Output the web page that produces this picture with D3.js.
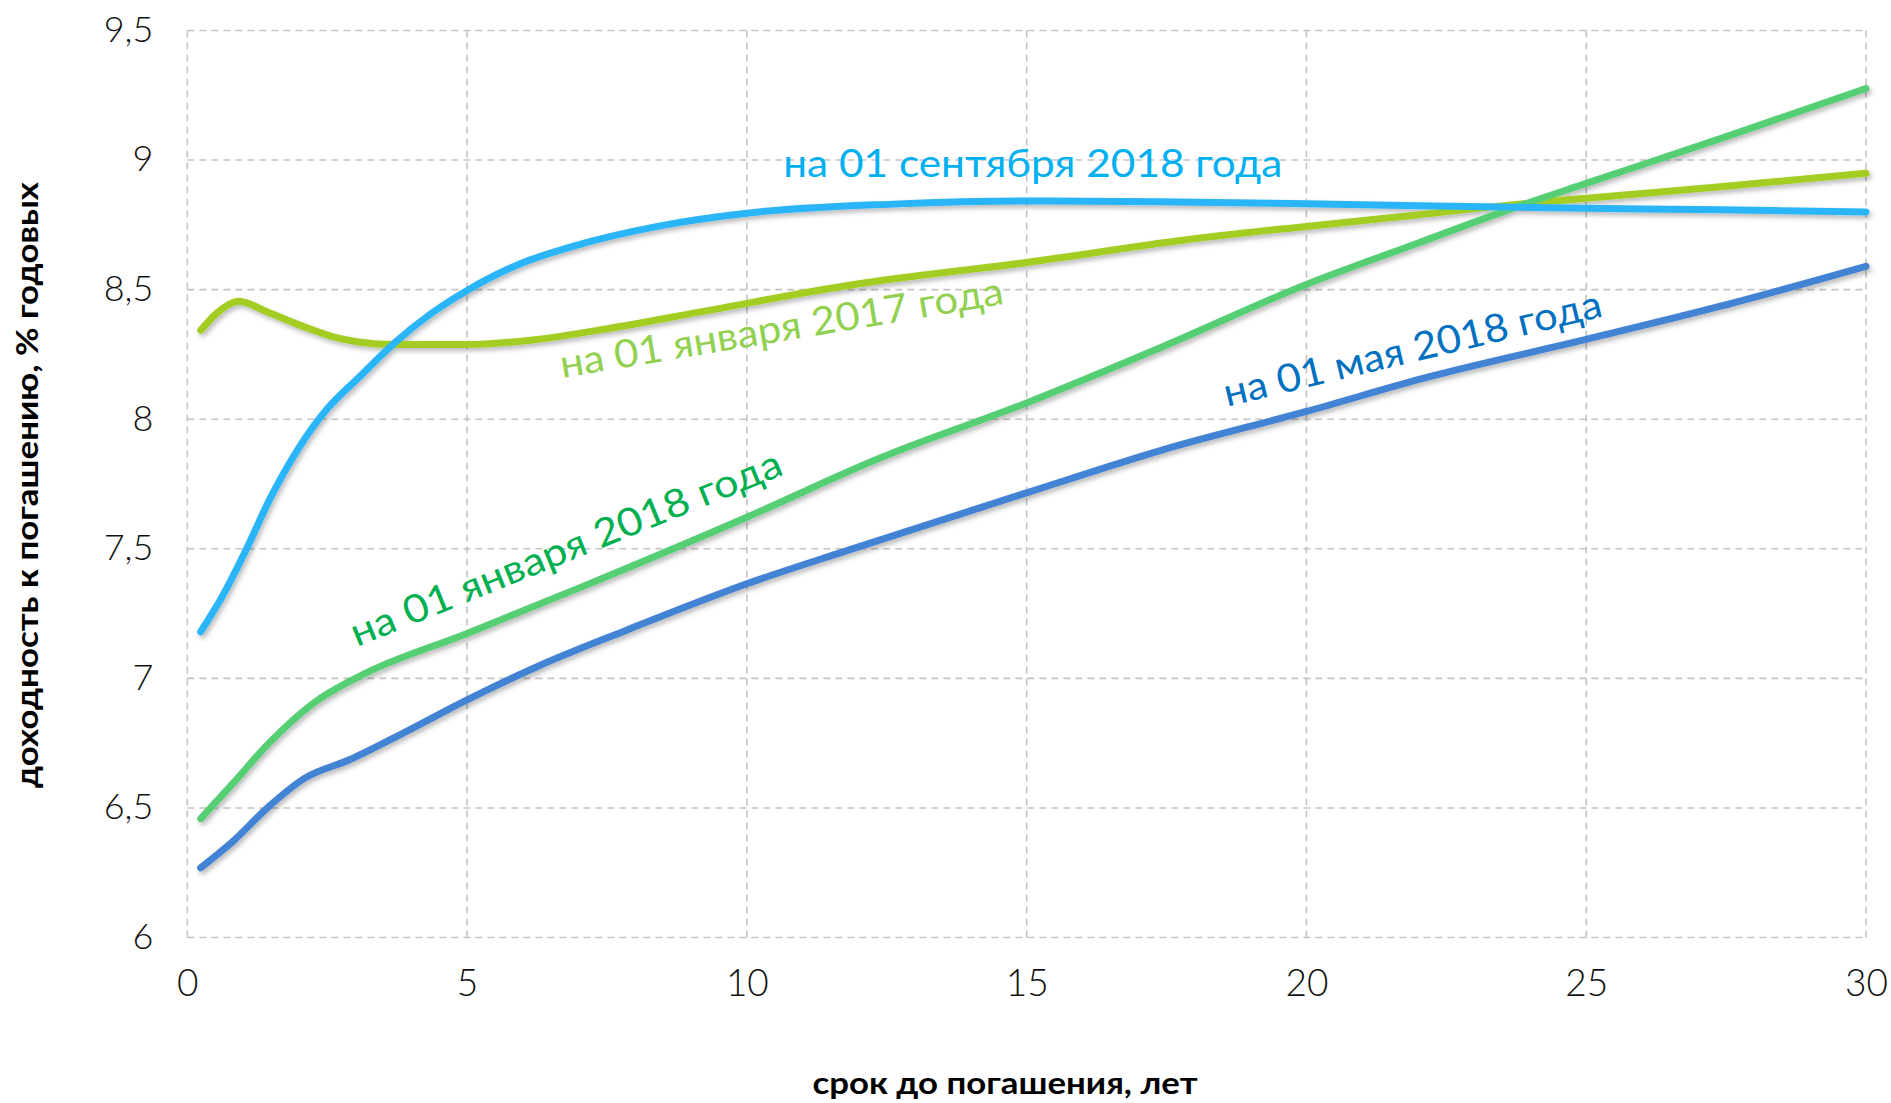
<!DOCTYPE html>
<html>
<head>
<meta charset="utf-8">
<script src="https://cdn.jsdelivr.net/npm/d3@7"></script>
<style>
  html, body { margin: 0; padding: 0; background: #fff; }
  svg { display: block; }
</style>
</head>
<body>
<svg id="chart" width="1891" height="1103"></svg>
<script>
// ---- data ----
const xTicks = [0, 5, 10, 15, 20, 25, 30];
const yTicks = [6, 6.5, 7, 7.5, 8, 8.5, 9, 9.5];
const yTickLabels = ["6", "6,5", "7", "7,5", "8", "8,5", "9", "9,5"];

const sep2018X = [0.24, 0.66, 1.06, 1.47, 1.98, 2.5, 3.06, 3.7, 4.34, 5, 5.93, 6.89, 8.5, 10, 12.6, 15, 17.35, 20, 22, 25, 27.4, 30];
const sep2018Y = [7.18, 7.33, 7.50, 7.69, 7.885, 8.04, 8.16, 8.294, 8.405, 8.497, 8.598, 8.667, 8.748, 8.795, 8.83, 8.842, 8.839, 8.831, 8.824, 8.814, 8.808, 8.80];

const jan2017X = [0.24, 0.525, 0.92, 1.42, 2.01, 2.61, 3.06, 3.7, 5.0, 6.25, 7.53, 9.17, 11.83, 15, 18.1, 20, 21.97, 23.8, 25, 27.4, 30];
const jan2017Y = [8.343, 8.409, 8.455, 8.415, 8.363, 8.318, 8.298, 8.288, 8.288, 8.308, 8.35, 8.414, 8.517, 8.605, 8.699, 8.744, 8.788, 8.83, 8.853, 8.897, 8.949];

const jan2018X = [0.24, 0.82, 1.46, 2.26, 3.06, 5.0, 7.05, 10, 12.38, 15, 17.42, 20, 22, 23.86, 25, 27.4, 30];
const jan2018Y = [6.459, 6.596, 6.75, 6.905, 7.006, 7.173, 7.353, 7.622, 7.85, 8.063, 8.279, 8.52, 8.68, 8.827, 8.91, 9.083, 9.276];

const may2018X = [0.24, 0.82, 1.46, 2.1, 2.9, 3.85, 5, 6.25, 7.85, 10, 11.83, 15, 17.42, 20, 22.2, 25, 27.4, 30];
const may2018Y = [6.269, 6.372, 6.506, 6.615, 6.686, 6.788, 6.917, 7.045, 7.186, 7.365, 7.496, 7.716, 7.881, 8.03, 8.164, 8.308, 8.436, 8.59];

const seriesNames = ["на 01 января 2017 года", "на 01 января 2018 года", "на 01 мая 2018 года", "на 01 сентября 2018 года"];

// ---- layout ----
const svg = d3.select("#chart");
const x = d3.scaleLinear().domain([0, 30]).range([187.3, 1866]);
const y = d3.scaleLinear().domain([6, 9.5]).range([937.5, 30.5]);

const defs = svg.append("defs");
const f = defs.append("filter").attr("id", "shadow")
  .attr("x", "-5%").attr("y", "-20%").attr("width", "110%").attr("height", "140%");
f.append("feDropShadow").attr("dx", 2).attr("dy", 3).attr("stdDeviation", 2.5)
  .attr("flood-color", "#000").attr("flood-opacity", 0.28);

// grid
const grid = svg.append("g").attr("stroke", "#c4c4c4").attr("stroke-width", 1.6)
  .attr("stroke-dasharray", "7,5").attr("fill", "none");
grid.selectAll("line.h").data(yTicks).join("line").attr("class", "h")
  .attr("x1", x(0)).attr("x2", x(30)).attr("y1", d => y(d)).attr("y2", d => y(d));
grid.selectAll("line.v").data(xTicks).join("line").attr("class", "v")
  .attr("y1", y(9.5)).attr("y2", y(6)).attr("x1", d => x(d)).attr("x2", d => x(d));

// axes (labels only)
const yAxis = d3.axisLeft(y).tickValues(yTicks).tickFormat((d, i) => yTickLabels[i]).tickSize(0).tickPadding(34);
const gy = svg.append("g").attr("transform", `translate(${x(0)},0)`).call(yAxis);
gy.select(".domain").remove();
gy.selectAll("text").attr("font-family", "Lato, sans-serif").attr("font-weight", 300)
  .attr("font-size", 36).attr("fill", "#111").attr("dy", "0.3em");

const xAxis = d3.axisBottom(x).tickValues(xTicks).tickFormat(d => String(d)).tickSize(0).tickPadding(32);
const gx = svg.append("g").attr("transform", `translate(0,${y(6)})`).call(xAxis);
gx.select(".domain").remove();
gx.selectAll("text").attr("font-family", "Lato, sans-serif").attr("font-weight", 300)
  .attr("font-size", 37).attr("fill", "#111");

// lines
const line = d3.line().x(d => x(d[0])).y(d => y(d[1])).curve(d3.curveMonotoneX);
const series = [
  { xs: jan2017X, ys: jan2017Y, color: "#a3cd21" },
  { xs: jan2018X, ys: jan2018Y, color: "#57ce73" },
  { xs: may2018X, ys: may2018Y, color: "#4383d4" },
  { xs: sep2018X, ys: sep2018Y, color: "#2cb5f8" }
];
const lg = svg.append("g").attr("filter", "url(#shadow)");
series.forEach(s => {
  const pts = s.xs.map((v, i) => [v, s.ys[i]]);
  lg.append("path").datum(pts).attr("d", line).attr("fill", "none")
    .attr("stroke", s.color).attr("stroke-width", 7).attr("stroke-linecap", "round")
    .attr("stroke-linejoin", "round");
});

// series labels
const labels = [
  { text: seriesNames[0], lx: 6.70, ly: 8.159, angle: -9.5, len: 449, color: "#92d050" },
  { text: seriesNames[1], lx: 3.03, ly: 7.121, angle: -22, len: 462, color: "#00b050" },
  { text: seriesNames[2], lx: 18.58, ly: 8.048, angle: -13.5, len: 388, color: "#0070c0" },
  { text: seriesNames[3], lx: 10.65, ly: 8.935, angle: 0, len: 499, color: "#00b0f0" }
];
svg.append("g").selectAll("text").data(labels).join("text")
  .attr("transform", d => `translate(${x(d.lx)},${y(d.ly)}) rotate(${d.angle})`)
  .attr("font-family", "Lato, sans-serif").attr("font-size", 39)
  .attr("textLength", d => d.len).attr("lengthAdjust", "spacingAndGlyphs")
  .attr("fill", d => d.color).text(d => d.text);

// axis titles
svg.append("text").attr("x", 1005).attr("y", 1094).attr("text-anchor", "middle")
  .attr("font-family", "Lato, sans-serif").attr("font-weight", 700).attr("font-size", 30)
  .attr("fill", "#000").attr("textLength", 385).attr("lengthAdjust", "spacingAndGlyphs")
  .text("срок до погашения, лет");

svg.append("text").attr("transform", "translate(38,485) rotate(-90)").attr("text-anchor", "middle")
  .attr("font-family", "Lato, sans-serif").attr("font-weight", 700).attr("font-size", 30)
  .attr("fill", "#000").attr("textLength", 606).attr("lengthAdjust", "spacingAndGlyphs")
  .text("доходность к погашению, % годовых");
</script>
</body>
</html>
